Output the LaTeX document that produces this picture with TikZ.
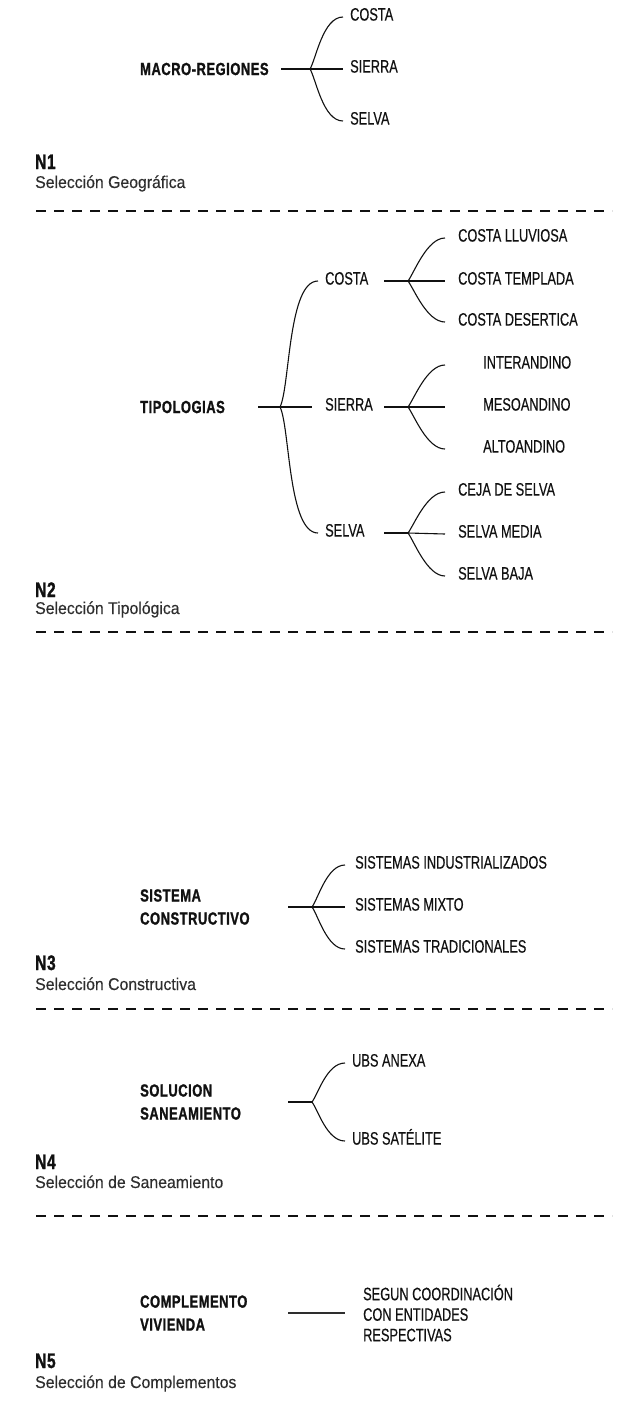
\documentclass[tikz,border=0pt]{standalone}
\usepackage{fontspec}
\setmainfont{Liberation Sans}
\newfontfamily\lblfont[FakeStretch=0.71,FakeBold=0.4]{Liberation Sans}
\newfontfamily\selfont[FakeStretch=0.93,FakeBold=0.3]{Liberation Sans}
\newfontfamily\headfont[FakeStretch=0.74,LetterSpace=3,FakeBold=1.2]{Liberation Sans}
\usepackage{tikz}
\usetikzlibrary{positioning}

\definecolor{ink}{HTML}{111111}
\definecolor{softink}{HTML}{2E2E2E}

\tikzset{
	lbl/.style={anchor=west,inner xsep=7pt,inner ysep=0pt,text height=0.72em,text depth=0pt,text=ink,font=\lblfont\fontsize{18}{20}\selectfont},
	headbox/.style={anchor=west,inner sep=0pt,align=left,text=ink,font=\headfont\bfseries\fontsize{17.5}{23}\selectfont},
	lvl/.style={anchor=base west,inner sep=0pt,text=ink,font=\headfont\bfseries\fontsize{21}{22}\selectfont},
	selbl/.style={anchor=base west,inner sep=0pt,text=softink,font=\selfont\fontsize{17}{18}\selectfont},
	stem/.style={draw=ink,line width=1.8pt},
	twig/.style={draw=ink,line width=1.1pt},
	divider/.style={draw=ink,line width=1.5pt,dash pattern=on 10pt off 8pt}
}

\begin{document}
\begin{tikzpicture}[x=1pt,y=-1pt]
	\useasboundingbox (0,0) rectangle (629,1401);

	% N1
	\node (macro) [headbox] at (140,69) {MACRO-REGIONES};
	\coordinate (m0) at (281,69);
	\coordinate (mb) at (310,69);
	\node (mcosta) [lbl] at (343,17) {COSTA};
	\node (msierra) [lbl] at (343,69) {SIERRA};
	\node (mselva) [lbl] at (343,121) {SELVA};
	\draw[stem] (m0) -- (mb);
	\draw[twig] (mb) -- (msierra.west);
	\draw[twig] (mb) .. controls +(6,-10) and +(-20,0) .. (mcosta.west);
	\draw[twig] (mb) .. controls +(6,10) and +(-20,0) .. (mselva.west);
	\node (n1) [lvl] at (35,169) {N1};
	\node (n1sel) [selbl] at (35,188) {Selección Geográfica};

	% N2
	\node (tipo) [headbox] at (140,407) {TIPOLOGIAS};
	\coordinate (t0) at (258,407);
	\coordinate (tb) at (280,407);
	\node (tcosta) [lbl] at (318,281) {COSTA};
	\node (tsierra) [lbl,inner xsep=13pt] at (312,407) {SIERRA};
	\node (tselva) [lbl] at (318,533) {SELVA};
	\draw[stem] (t0) -- (tb);
	\draw[twig] (tb) -- (tsierra.west);
	\draw[twig] (tb) .. controls +(10,-20) and +(-30,0) .. (tcosta.west);
	\draw[twig] (tb) .. controls +(10,20) and +(-30,0) .. (tselva.west);
	% costa
	\coordinate (c0) at (384,281);
	\coordinate (cb) at (408,281);
	\node (clluv) [lbl,inner xsep=13pt] at (445,238) {COSTA LLUVIOSA};
	\node (ctemp) [lbl,inner xsep=13pt] at (445,281) {COSTA TEMPLADA};
	\node (cdes) [lbl,inner xsep=13pt] at (445,322) {COSTA DESERTICA};
	\draw[stem] (c0) -- (cb);
	\draw[twig] (cb) -- (ctemp.west);
	\draw[twig] (cb) .. controls +(6,-8) and +(-18,0) .. (clluv.west);
	\draw[twig] (cb) .. controls +(6,8) and +(-18,0) .. (cdes.west);
	% sierra
	\coordinate (s0) at (384,407);
	\coordinate (sb) at (408,407);
	\node (sinter) [lbl,inner xsep=38pt] at (445,365) {INTERANDINO};
	\node (smeso) [lbl,inner xsep=38pt] at (445,407) {MESOANDINO};
	\node (salto) [lbl,inner xsep=38pt] at (445,449) {ALTOANDINO};
	\draw[stem] (s0) -- (sb);
	\draw[twig] (sb) -- (smeso.west);
	\draw[twig] (sb) .. controls +(6,-8) and +(-18,0) .. (sinter.west);
	\draw[twig] (sb) .. controls +(6,8) and +(-18,0) .. (salto.west);
	% selva
	\coordinate (v0) at (384,533);
	\coordinate (vb) at (408,533);
	\node (vceja) [lbl,inner xsep=13pt] at (445,492) {CEJA DE SELVA};
	\node (vmedia) [lbl,inner xsep=13pt] at (445,534) {SELVA MEDIA};
	\node (vbaja) [lbl,inner xsep=13pt] at (445,576) {SELVA BAJA};
	\draw[stem] (v0) -- (vb);
	\draw[twig] (vb) -- (vmedia.west);
	\draw[twig] (vb) .. controls +(6,-8) and +(-18,0) .. (vceja.west);
	\draw[twig] (vb) .. controls +(6,8) and +(-18,0) .. (vbaja.west);
	\node (n2) [lvl] at (35,597) {N2};
	\node (n2sel) [selbl] at (35,614) {Selección Tipológica};

	% N3
	\node (sist) [headbox] at (140,907) {SISTEMA\\CONSTRUCTIVO};
	\coordinate (k0) at (288,907);
	\coordinate (kb) at (312,907);
	\node (kind) [lbl,inner xsep=10pt] at (345,865) {SISTEMAS INDUSTRIALIZADOS};
	\node (kmix) [lbl,inner xsep=10pt] at (345,907) {SISTEMAS MIXTO};
	\node (ktrad) [lbl,inner xsep=10pt] at (345,949) {SISTEMAS TRADICIONALES};
	\draw[stem] (k0) -- (kb);
	\draw[twig] (kb) -- (kmix.west);
	\draw[twig] (kb) .. controls +(6,-8) and +(-18,0) .. (kind.west);
	\draw[twig] (kb) .. controls +(6,8) and +(-18,0) .. (ktrad.west);
	\node (n3) [lvl] at (35,970) {N3};
	\node (n3sel) [selbl] at (35,990) {Selección Constructiva};

	% N4
	\node (sol) [headbox] at (140,1102) {SOLUCION\\SANEAMIENTO};
	\coordinate (u0) at (288,1102);
	\coordinate (ub) at (312,1102);
	\node (uanexa) [lbl] at (345,1063) {UBS ANEXA};
	\node (usat) [lbl] at (345,1141) {UBS SATÉLITE};
	\draw[stem] (u0) -- (ub);
	\draw[twig] (ub) .. controls +(6,-8) and +(-18,0) .. (uanexa.west);
	\draw[twig] (ub) .. controls +(6,8) and +(-18,0) .. (usat.west);
	\node (n4) [lvl] at (35,1169) {N4};
	\node (n4sel) [selbl] at (35,1188) {Selección de Saneamiento};

	% N5
	\node (comp) [headbox] at (140,1313) {COMPLEMENTO\\VIVIENDA};
	\coordinate (p0) at (288,1313);
	\coordinate (p1) at (345,1313);
	\node (pseg) [lbl,text height=,text depth=,align=left,inner xsep=0pt,right=18pt of p1,font=\lblfont\fontsize{18}{20.5}\selectfont] {SEGUN COORDINACIÓN\\CON ENTIDADES\\RESPECTIVAS};
	\draw[twig,draw=softink] (p0) -- (p1);
	\node (n5) [lvl] at (35,1368) {N5};
	\node (n5sel) [selbl] at (35,1388) {Selección de Complementos};

	% dividers
	\foreach \y in {211,632,1009,1216}
		\draw[divider] (36,\y) -- (612,\y);
\end{tikzpicture}
\end{document}
